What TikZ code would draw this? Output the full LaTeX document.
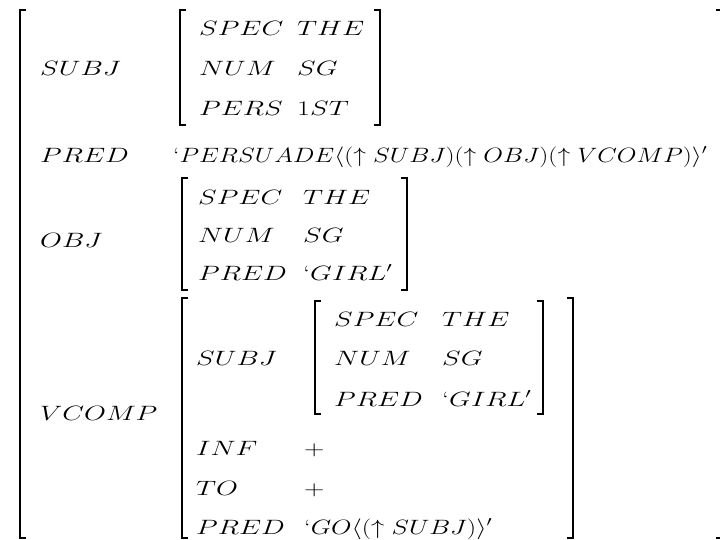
\documentclass[tikz,border=0pt]{standalone}
\usepackage{graphicx}
\newcommand\avt[1]{\scalebox{1.36}[1]{$#1$}}
\begin{document}
\begin{tikzpicture}[x=1pt,y=-1pt,
  brk/.style={line width=1.3pt},
  lbl/.style={anchor=base west,inner sep=0pt,font=\fontsize{20.74}{25}\selectfont}]
\useasboundingbox (0,0) rectangle (720,539);
% brackets
\newcommand\LB[3]{\draw[brk] (#1+6,#2) -- (#1,#2) -- (#1,#3) -- (#1+6,#3);}
\newcommand\RB[3]{\draw[brk] (#1-6,#2) -- (#1,#2) -- (#1,#3) -- (#1-6,#3);}
\LB{20}{10}{538} \RB{721.5}{10}{538}
\LB{180}{10}{125} \RB{380}{10}{125}
\LB{182}{178}{290} \RB{407}{178}{290}
\LB{182}{298}{538} \RB{573}{298}{538}
\LB{315}{301}{414} \RB{543}{301}{414}
% outer
\node[lbl] (s1) at (40,75) {\avt{SUBJ}};
\node[lbl] (a1) at (199,35) {\avt{SPEC}};
\node[lbl] (b1) at (297,35) {\avt{THE}};
\node[lbl] (a2) at (199,75) {\avt{NUM}};
\node[lbl] (b2) at (297,75) {\avt{SG}};
\node[lbl] (a3) at (199,115) {\avt{PERS}};
\node[lbl] (b3) at (297,115) {\avt{1ST}};
\node[lbl] (p) at (40,162) {\avt{PRED}};
\node[lbl] (pv) at (173,162) {\resizebox{534pt}{\height}{$`PERSUADE\langle(\uparrow SUBJ)(\uparrow OBJ)(\uparrow VCOMP)\rangle'$}};
\node[lbl] (o) at (40,247) {\avt{OBJ}};
\node[lbl] (oa1) at (198,204) {\avt{SPEC}};
\node[lbl] (ob1) at (303,204) {\avt{THE}};
\node[lbl] (oa2) at (198,242) {\avt{NUM}};
\node[lbl] (ob2) at (303,242) {\avt{SG}};
\node[lbl] (oa3) at (198,280) {\avt{PRED}};
\node[lbl] (ob3) at (303,280) {\avt{`GIRL'}};
\node[lbl] (v) at (40,420) {\avt{VCOMP}};
\node[lbl] (vs) at (196,365) {\avt{SUBJ}};
\node[lbl] (va1) at (334,326) {\avt{SPEC}};
\node[lbl] (vb1) at (442,326) {\avt{THE}};
\node[lbl] (va2) at (334,365) {\avt{NUM}};
\node[lbl] (vb2) at (442,365) {\avt{SG}};
\node[lbl] (va3) at (334,406) {\avt{PRED}};
\node[lbl] (vb3) at (442,406) {\avt{`GIRL'}};
\node[lbl] (vi) at (196,455) {\avt{INF}};
\node[lbl] (vp1) at (304,455) {\avt{+}};
\node[lbl] (vt) at (196,495) {\avt{TO}};
\node[lbl] (vp2) at (304,495) {\avt{+}};
\node[lbl] (vpr) at (196,534) {\avt{PRED}};
\node[lbl] (vg) at (304,534) {\resizebox{188pt}{\height}{$`GO\langle(\uparrow SUBJ)\rangle'$}};
\end{tikzpicture}
\end{document}
